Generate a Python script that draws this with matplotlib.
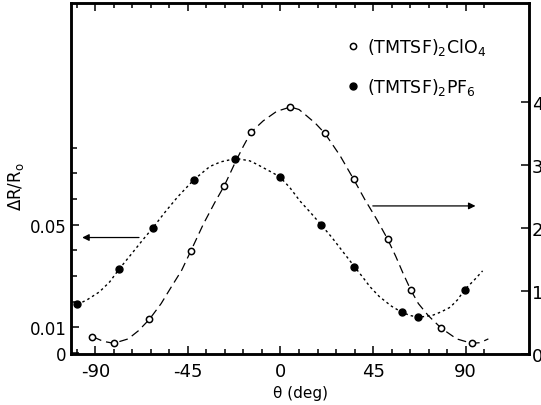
import matplotlib
matplotlib.use('Agg')
import matplotlib.pyplot as plt
import numpy as np

# measured points, (TMTSF)2ClO4 -> right axis, (TMTSF)2PF6 -> left axis
theta_clo4 = [-91.4, -81.0, -63.7, -43.5, -27.3, -14.3, 4.8, 21.6, 35.6, 52.1, 63.4, 78.1, 92.9]
val_clo4 = [0.27, 0.17, 0.55, 1.64, 2.67, 3.52, 3.92, 3.50, 2.77, 1.82, 1.01, 0.41, 0.17]

theta_pf6 = [-98.7, -78.3, -62.0, -42.0, -22.0, -0.4, 19.7, 35.9, 58.9, 66.7, 89.5]
val_pf6 = [0.0189, 0.0328, 0.0488, 0.0676, 0.0756, 0.0687, 0.0500, 0.0337, 0.0159, 0.0140, 0.0247]

# fitted curves
fit_theta_clo4 = [-91, -86, -81, -74, -69, -63.7, -58, -53.7, -48, -43.5, -37.5, -32, -27.3,
                  -22, -18, -14.3, -8.4, -1.9, 4.8, 9, 12.7, 17, 21.6, 28.9, 35.6, 41, 46.7,
                  52.1, 56, 59.7, 63.4, 67, 71.8, 78.1, 85.6, 92.9, 97, 101]
fit_val_clo4 = [0.27, 0.20, 0.17, 0.24, 0.37, 0.55, 0.80, 1.03, 1.33, 1.64, 2.06, 2.40, 2.67,
                3.04, 3.30, 3.52, 3.70, 3.85, 3.92, 3.88, 3.78, 3.66, 3.50, 3.15, 2.77, 2.45, 2.14,
                1.82, 1.55, 1.27, 1.01, 0.80, 0.61, 0.41, 0.24, 0.17, 0.18, 0.24]

fit_theta_pf6 = [-98.7, -94, -88, -83, -78.3, -72, -67, -62, -56, -50, -42, -34.3, -29, -24.5,
                 -20, -15, -11.6, -5.1, -0.4, 4.5, 9.5, 14.5, 19.7, 25, 30, 35.9, 40, 43.5, 48,
                 54, 58.9, 63, 66.7, 70, 74.3, 78, 82.4, 86, 89.5, 94, 98.2]
fit_val_pf6 = [0.0189, 0.0207, 0.0238, 0.0277, 0.0328, 0.0390, 0.0440, 0.0488, 0.0550, 0.0608,
               0.0676, 0.0727, 0.0745, 0.0753, 0.0756, 0.0749, 0.0736, 0.0708, 0.0687, 0.0645,
               0.0592, 0.0548, 0.0500, 0.0450, 0.0398, 0.0337, 0.0295, 0.0258, 0.0220, 0.0182,
               0.0159, 0.0146, 0.0140, 0.0142, 0.0148, 0.0160, 0.0178, 0.0207, 0.0247, 0.0283,
               0.0320]

xticks = [-90, -45, 0, 45, 90]
xticklabels = ['-90', '-45', '0', '45', '90']
left_ticks = [0, 0.01, 0.05]
left_ticklabels = ['0', '0.01', '0.05']
right_ticks = [0, 1, 2, 3, 4]

plt.rcParams['font.family'] = ['DejaVu Sans']

fig = plt.figure(figsize=(5.41, 4.06), dpi=100)
ax = fig.add_axes([0.1312, 0.1256, 0.8472, 0.8645])
ax2 = ax.twinx()

ax.set_xlim(-101.8, 120.9)
ax.set_ylim(-0.0004, 0.1364)
ax2.set_ylim(0, 5.57)

# PF6 on the left axis
ax.plot(fit_theta_pf6, fit_val_pf6, color='black', lw=1.0, linestyle=(0, (1.8, 2.2)))
ax.plot(theta_pf6, val_pf6, 'o', color='black', markersize=5, label='(TMTSF)$_2$PF$_6$')

# ClO4 on the right axis
ax2.plot(fit_theta_clo4, fit_val_clo4, color='black', lw=0.9, linestyle=(0, (7, 4)))
ax2.plot(theta_clo4, val_clo4, 'o', mfc='white', mec='black', mew=1.1, markersize=4.5,
         label='(TMTSF)$_2$ClO$_4$')

# arrows showing which axis each curve belongs to
ax.annotate('', xy=(-97.7, 0.045), xytext=(-67.4, 0.045),
            arrowprops=dict(arrowstyle='-|>', color='black', lw=0.9, mutation_scale=10))
ax2.annotate('', xy=(96.1, 2.35), xytext=(43.5, 2.35),
             arrowprops=dict(arrowstyle='-|>', color='black', lw=0.9, mutation_scale=10))

# ticks
ax.set_xticks(xticks)
ax.set_xticklabels(xticklabels, fontsize=13)
ax.set_xticks(np.arange(-99, 100, 9), minor=True)
ax.set_yticks(left_ticks)
ax.set_yticklabels(left_ticklabels, fontsize=12)
ax.set_yticks(np.arange(0.02, 0.081, 0.01), minor=True)
ax.tick_params(axis='x', which='both', direction='in', top=True, width=1.1)
ax.tick_params(axis='x', which='major', length=6, pad=6)
ax.tick_params(axis='x', which='minor', length=3.5)
ax.tick_params(axis='y', which='both', direction='in', width=1.1)
ax.tick_params(axis='y', which='major', length=6, pad=3)
ax.tick_params(axis='y', which='minor', length=4)

ax2.set_yticks(right_ticks)
ax2.set_yticklabels([str(t) for t in right_ticks], fontsize=13)
ax2.tick_params(axis='y', direction='in', length=6, width=1.1, pad=2)

for sp in ax.spines.values():
    sp.set_linewidth(1.8)
for sp in ax2.spines.values():
    sp.set_linewidth(1.8)

ax.set_xlabel('θ (deg)', fontsize=11, labelpad=3)
ax.set_ylabel('ΔR/R$_\\mathrm{o}$', fontsize=12)
ax.yaxis.set_label_coords(-0.098, 0.48)

h1, l1 = ax2.get_legend_handles_labels()
h2, l2 = ax.get_legend_handles_labels()
ax.legend(h1 + h2, l1 + l2, loc='upper left', bbox_to_anchor=(0.585, 0.925), frameon=False,
          fontsize=12.5, handlelength=0.8, handletextpad=0.4, labelspacing=1.1,
          borderaxespad=0)

fig.savefig('out.png', dpi=100)
